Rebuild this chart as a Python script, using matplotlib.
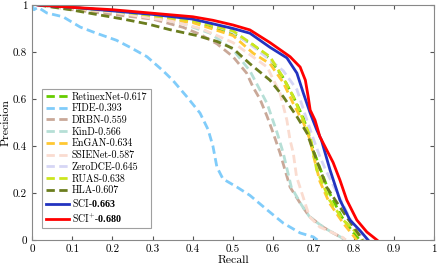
import matplotlib
matplotlib.use("Agg")
import matplotlib.pyplot as plt

plt.rcParams['font.family'] = ['cmr10', 'DejaVu Serif']
plt.rcParams['mathtext.fontset'] = 'custom'
plt.rcParams['mathtext.rm'] = 'cmr10'
plt.rcParams['mathtext.bf'] = 'Liberation Serif:bold'
plt.rcParams['axes.formatter.use_mathtext'] = True
plt.rcParams['font.size'] = 8

# (recall, precision) pairs
retinex_r = [0.02, 0.2, 0.4, 0.5, 0.55, 0.592, 0.625, 0.65, 0.675, 0.69, 0.70, 0.72, 0.74, 0.77, 0.80, 0.815]
retinex_p = [1.0, 0.975, 0.93, 0.88, 0.83, 0.77, 0.69, 0.61, 0.52, 0.44, 0.38, 0.29, 0.20, 0.10, 0.03, 0.0]

fide_r = [0.0, 0.005, 0.015, 0.037, 0.077, 0.12, 0.16, 0.21, 0.244, 0.286, 0.326, 0.35,
          0.385, 0.418, 0.438, 0.45, 0.46, 0.475, 0.51, 0.542, 0.585, 0.625, 0.667, 0.70, 0.71]
fide_p = [1.0, 0.98, 0.99, 0.966, 0.95, 0.906, 0.88, 0.85, 0.82, 0.78, 0.72, 0.68,
          0.61, 0.54, 0.47, 0.40, 0.31, 0.26, 0.225, 0.19, 0.128, 0.072, 0.03, 0.013, 0.0]

drbn_r = [0.02, 0.1, 0.2, 0.3, 0.376, 0.418, 0.46, 0.5, 0.534, 0.55, 0.567, 0.585, 0.60,
          0.617, 0.642, 0.667, 0.69, 0.724, 0.749, 0.77, 0.78]
drbn_p = [1.0, 0.98, 0.96, 0.94, 0.905, 0.875, 0.835, 0.78, 0.71, 0.65, 0.60, 0.525, 0.455,
          0.37, 0.225, 0.157, 0.10, 0.055, 0.03, 0.01, 0.0]

kind_r = [0.02, 0.1, 0.2, 0.3, 0.376, 0.443, 0.5, 0.542, 0.585, 0.61, 0.625, 0.645, 0.67,
          0.69, 0.724, 0.749, 0.77, 0.78]
kind_p = [1.0, 0.985, 0.97, 0.95, 0.92, 0.88, 0.81, 0.72, 0.58, 0.455, 0.37, 0.225, 0.15,
          0.10, 0.055, 0.03, 0.01, 0.0]

engan_r = [0.02, 0.2, 0.4, 0.5, 0.55, 0.592, 0.625, 0.65, 0.675, 0.692, 0.70, 0.716,
           0.74, 0.774, 0.808]
engan_p = [1.0, 0.97, 0.925, 0.87, 0.795, 0.75, 0.67, 0.58, 0.50, 0.425, 0.36, 0.25,
           0.157, 0.072, 0.0]

ssie_r = [0.02, 0.2, 0.35, 0.42, 0.5, 0.585, 0.617, 0.634, 0.642, 0.65, 0.658, 0.675, 0.69,
          0.716, 0.749, 0.774, 0.78]
ssie_p = [1.0, 0.97, 0.93, 0.90, 0.84, 0.736, 0.625, 0.51, 0.425, 0.37, 0.27, 0.18, 0.10,
          0.055, 0.03, 0.01, 0.0]

zerodce_r = [0.02, 0.2, 0.4, 0.5, 0.56, 0.625, 0.659, 0.684, 0.70, 0.715, 0.73, 0.75, 0.78, 0.80, 0.82, 0.83]
zerodce_p = [1.0, 0.975, 0.94, 0.885, 0.81, 0.72, 0.64, 0.51, 0.43, 0.36, 0.30, 0.23, 0.13, 0.06, 0.015, 0.0]

ruas_r = [0.02, 0.2, 0.4, 0.5, 0.542, 0.592, 0.625, 0.65, 0.675, 0.692, 0.708, 0.74, 0.774, 0.808, 0.82]
ruas_p = [1.0, 0.975, 0.935, 0.89, 0.84, 0.78, 0.69, 0.61, 0.51, 0.44, 0.30, 0.17, 0.085, 0.03, 0.0]

hla_r = [0.015, 0.095, 0.16, 0.227, 0.286, 0.343, 0.41, 0.46, 0.5, 0.542, 0.592, 0.625, 0.659,
         0.684, 0.708, 0.733, 0.766, 0.80, 0.823]
hla_p = [1.0, 0.98, 0.96, 0.94, 0.92, 0.895, 0.87, 0.845, 0.815, 0.75, 0.68, 0.61, 0.525,
         0.455, 0.34, 0.225, 0.14, 0.055, 0.0]

sci_r = [0.015, 0.1, 0.3, 0.4, 0.45, 0.5, 0.542, 0.592, 0.634, 0.659, 0.675, 0.692, 0.708, 0.72,
         0.741, 0.766, 0.791, 0.816, 0.836]
sci_p = [1.0, 0.99, 0.96, 0.94, 0.92, 0.9, 0.88, 0.82, 0.775, 0.71, 0.625, 0.54, 0.47, 0.425,
         0.30, 0.17, 0.085, 0.04, 0.0]

scip_r = [0.015, 0.1, 0.2, 0.3, 0.4, 0.45, 0.5, 0.542, 0.592, 0.642, 0.667, 0.68, 0.687, 0.692,
          0.704, 0.716, 0.737, 0.749, 0.766, 0.783, 0.808, 0.833, 0.858]
scip_p = [1.0, 0.99, 0.98, 0.965, 0.95, 0.935, 0.915, 0.894, 0.84, 0.78, 0.736, 0.68, 0.61, 0.553,
          0.51, 0.44, 0.37, 0.33, 0.255, 0.17, 0.085, 0.034, 0.0]

dash = (0, (3, 1.6))
fig = plt.figure(figsize=(4.38, 2.71), dpi=100)
ax = fig.add_axes([32/438, 31/271, 402/438, 235/271])

ax.plot(retinex_r, retinex_p, color='#66cc00', ls=dash, lw=2, label='RetinexNet-0.617')
ax.plot(fide_r, fide_p, color='#80ccfa', ls=dash, lw=2, label='FIDE-0.393')
ax.plot(drbn_r, drbn_p, color='#c9a898', ls=dash, lw=2, label='DRBN-0.559')
ax.plot(kind_r, kind_p, color='#b6dfd6', ls=dash, lw=2, label='KinD-0.566')
ax.plot(engan_r, engan_p, color='#ffc832', ls=dash, lw=2, label='EnGAN-0.634')
ax.plot(ssie_r, ssie_p, color='#fadcd0', ls=dash, lw=2, label='SSIENet-0.587')
ax.plot(zerodce_r, zerodce_p, color='#d6d6f5', ls=dash, lw=2, label='ZeroDCE-0.645')
ax.plot(ruas_r, ruas_p, color='#cce61e', ls=dash, lw=2, label='RUAS-0.638')
ax.plot(hla_r, hla_p, color='#6b7d1e', ls=dash, lw=2, label='HLA-0.607')
ax.plot(sci_r, sci_p, color='#2233c0', lw=2, label=r'SCI-$\mathbf{0.663}$')
ax.plot(scip_r, scip_p, color='#ff0000', lw=2, label=r'SCI$^{+}$-$\mathbf{0.680}$')

ax.set_xlim(0, 1)
ax.set_ylim(0, 1)
ax.set_xticks([i/10 for i in range(11)])
ax.set_xticklabels(['0', '0.1', '0.2', '0.3', '0.4', '0.5', '0.6', '0.7', '0.8', '0.9', '1'])
ax.set_yticks([0, 0.2, 0.4, 0.6, 0.8, 1])
ax.set_yticklabels(['0', '0.2', '0.4', '0.6', '0.8', '1'])
ax.tick_params(direction='in', top=True, right=True, length=3, color='#555555', labelsize=8)
for s in ax.spines.values():
    s.set_color('#888888')
ax.set_xlabel('Recall', fontsize=8.5, labelpad=1)
ax.set_ylabel('Precision', fontsize=8.5, labelpad=2)

leg = ax.legend(loc='lower left', bbox_to_anchor=(0.025, 0.05), borderaxespad=0, fontsize=7.2,
                frameon=True, fancybox=False, edgecolor='#888888', handlelength=2.3,
                labelspacing=0.22, handletextpad=0.3, borderpad=0.35)
leg.get_frame().set_linewidth(0.8)

fig.savefig('out.png', dpi=100)
